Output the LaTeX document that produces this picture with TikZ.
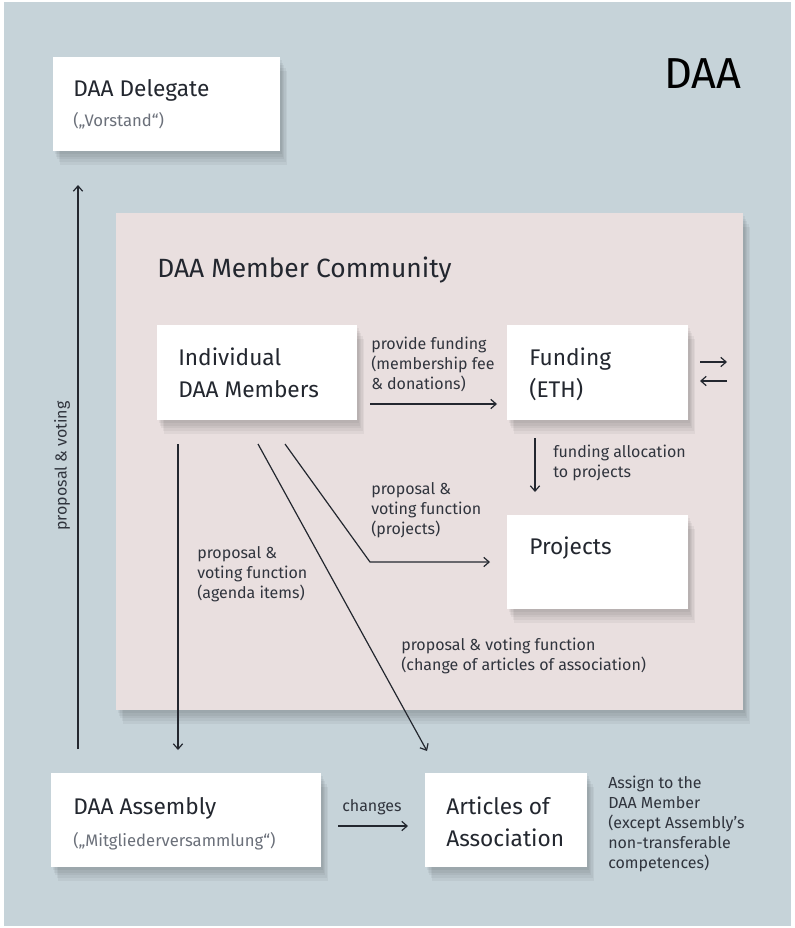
\documentclass[tikz,border=0pt]{standalone}
\usepackage{fontspec}
\setmainfont{Fira Sans}
\usetikzlibrary{positioning,arrows.meta}

\definecolor{daablue}{HTML}{C6D3D9}
\definecolor{daapink}{HTML}{E9DFDF}
\definecolor{daatext}{HTML}{23272F}
\definecolor{daanote}{HTML}{30343D}
\definecolor{daagray}{HTML}{6B707A}

\tikzset{
  boxsize/.style 2 args={minimum width=#1*0.75pt, minimum height=#2*0.75pt},
  softshadow/.style={preaction={fill=black, fill opacity=0.045, transform canvas={shift={(#1*1pt,-#1*2pt)}}}},
  box/.style={fill=white, inner sep=0pt, anchor=north west,
    softshadow=1, softshadow=2, softshadow=3, softshadow=4, softshadow=5},
  title/.style={anchor=north west, inner sep=0pt, align=left, text=daatext,
    font=\fontsize{17}{24}\selectfont},
  subtitle/.style={anchor=north west, inner sep=0pt, text=daagray,
    font=\fontsize{12.5}{15}\selectfont},
  note/.style={anchor=north west, inner sep=0pt, align=left, text=daanote,
    font=\fontsize{12}{15}\selectfont},
  link/.style={draw=daatext, line width=0.9pt, -{Straight Barb[length=4pt,width=7pt]}},
}

\begin{document}
\begin{tikzpicture}[x=0.75pt, y=-0.75pt]
  \useasboundingbox (0,0) rectangle (794,928);
  \fill[daablue] (4,2) rectangle (791,926);
  \node[anchor=north west, inner sep=0pt, font=\fontsize{32.5}{36}\selectfont] (daa) at (664,58) {DAA};

  % delegate
  \node[box, boxsize={227}{94}] (delegate) at (53,57) {};
  \node[title] (delegatetitle) at (73,79) {DAA Delegate};
  \node[subtitle] (delegatesub) at (73,112) {(„Vorstand“)};

  % member community
  \node[box, fill=daapink, boxsize={627}{497}] (community) at (116,213) {};
  \node[title, font=\fontsize{19.8}{24}\selectfont] (communitytitle) at (157,257) {DAA Member Community};

  \node[box, boxsize={200}{95}] (members) at (157,325) {};
  \node[title] (memberstitle) at (178,348) {Individual\\DAA Members};
  \node[box, boxsize={181}{95}] (funding) at (507,325) {};
  \node[title] (fundingtitle) at (529,348) {Funding\\(ETH)};
  \node[box, boxsize={181}{94}] (projects) at (507,515) {};
  \node[title] (projectstitle) at (529,537) {Projects};

  % assembly and articles
  \node[box, boxsize={270}{94}] (assembly) at (51,773) {};
  \node[title] (assemblytitle) at (73,797) {DAA Assembly};
  \node[subtitle] (assemblysub) at (73,832) {(„Mitgliederversammlung“)};
  \node[box, boxsize={162}{94}] (articles) at (425,773) {};
  \node[title] (articlestitle) at (446,797) {Articles of\\Association};

  % labels
  \node[note] (fundlabel) at (371,337) {provide funding\\(membership fee\\\& donations)};
  \node[note] (alloclabel) at (553,445) {funding allocation\\to projects};
  \node[note] (projlabel) at (371,482) {proposal \&\\voting function\\(projects)};
  \node[note] (agendalabel) at (197,546) {proposal \&\\voting function\\(agenda items)};
  \node[note] (artlabel) at (401,638) {proposal \& voting function\\(change of articles of association)};
  \node[note] (changelabel) at (342,799) {changes};
  \node[note] (assignlabel) at (608,776) {Assign to the\\DAA Member\\(except Assembly’s\\non-transferable\\competences)};
  \node[note, anchor=center, rotate=90] (votelabel) at (62,466) {proposal \& voting};

  % connector ends
  \coordinate (voteA) at (78,749);
  \coordinate (voteB) at (78,185);
  \coordinate (agendaA) at (178,444);
  \coordinate (agendaB) at (178,750);
  \coordinate (artA) at (258,444);
  \coordinate (artB) at (427,751);
  \coordinate (projA) at (285,444);
  \coordinate (projK) at (370,562);
  \coordinate (projB) at (490,562);
  \coordinate (fundA) at (370,404);
  \coordinate (fundB) at (497,404);
  \coordinate (allocA) at (535,438);
  \coordinate (allocB) at (535,492);
  \coordinate (changeA) at (338,826);
  \coordinate (changeB) at (408,826);
  \coordinate (ethoutA) at (700,362);
  \coordinate (ethoutB) at (727,362);
  \coordinate (ethinA) at (727,381);
  \coordinate (ethinB) at (700,381);

  \begin{scope}[link]
    \draw (voteA) -- (voteB);
    \draw (agendaA) -- (agendaB);
    \draw (artA) -- (artB);
    \draw (projA) -- (projK) -- (projB);
    \draw (fundA) -- (fundB);
    \draw (allocA) -- (allocB);
    \draw (changeA) -- (changeB);
    \draw (ethoutA) -- (ethoutB);
    \draw (ethinA) -- (ethinB);
  \end{scope}
\end{tikzpicture}
\end{document}
